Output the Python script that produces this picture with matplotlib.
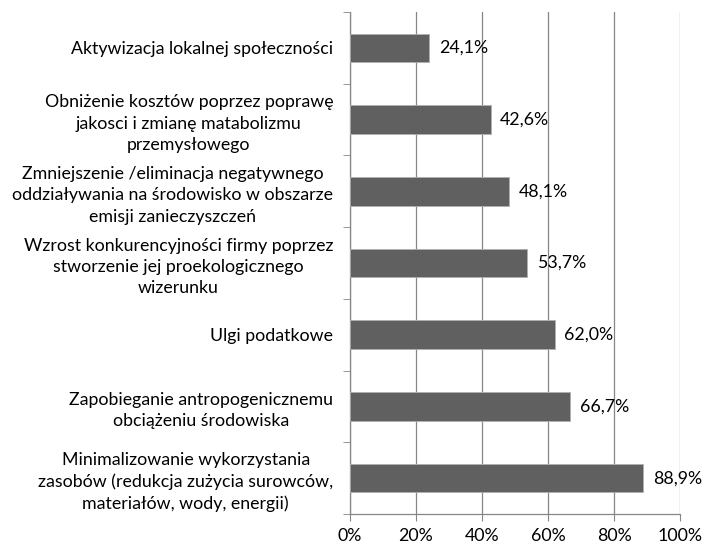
import matplotlib.pyplot as plt

plt.rcParams['font.family'] = ['Lato', 'DejaVu Sans']

categories = [
    "Aktywizacja lokalnej społeczności",
    "Obniżenie kosztów poprzez poprawę\njakosci i zmianę matabolizmu\nprzemysłowego",
    "Zmniejszenie /eliminacja negatywnego\noddziaływania na środowisko w obszarze\nemisji zanieczyszczeń",
    "Wzrost konkurencyjności firmy poprzez\nstworzenie jej proekologicznego\nwizerunku",
    "Ulgi podatkowe",
    "Zapobieganie antropogenicznemu\nobciążeniu środowiska",
    "Minimalizowanie wykorzystania\nzasobów (redukcja zużycia surowców,\nmateriałów, wody, energii)",
]
values = [24.1, 42.6, 48.1, 53.7, 62.0, 66.7, 88.9]
value_labels = ["24,1%", "42,6%", "48,1%", "53,7%", "62,0%", "66,7%", "88,9%"]
xticks = [0, 20, 40, 60, 80, 100]
xtick_labels = ["0%", "20%", "40%", "60%", "80%", "100%"]

FS = 12.8

fig = plt.figure(figsize=(7.04, 5.46), dpi=100)
ax = fig.add_axes([0.497, 0.0586, 0.469, 0.9194])

pos = list(range(len(categories)))
ax.barh(pos, values, height=0.4, color='#606060', edgecolor='#b0b0b0',
        linewidth=0.6, zorder=3)

for p, v, lab in zip(pos, values, value_labels):
    ax.annotate(lab, (v, p), xytext=(7, 0), textcoords='offset points',
                va='center', ha='left', fontsize=FS, color='black', zorder=4)

ax.set_xlim(0, 100)
ax.set_ylim(len(categories) - 0.5, -0.5)
ax.set_xticks(xticks)
ax.set_xticklabels(xtick_labels, fontsize=FS)
ax.set_yticks(pos)
ax.set_yticklabels(categories, fontsize=FS)
for t in ax.get_yticklabels():
    t.set_multialignment('center')
    t.set_linespacing(1.4)
ax.set_yticks([i - 0.5 for i in range(len(categories) + 1)], minor=True)

ax.tick_params(axis='y', which='major', length=0, pad=12)
ax.tick_params(axis='y', which='minor', length=5, color='#868686')
ax.tick_params(axis='x', length=5, color='#868686', pad=5)

ax.grid(axis='x', color='#868686', linewidth=0.9, zorder=0)
ax.set_axisbelow(True)
for s in ['top', 'right']:
    ax.spines[s].set_visible(False)
for s in ['left', 'bottom']:
    ax.spines[s].set_color('#868686')
    ax.spines[s].set_linewidth(0.9)

fig.savefig('out.png', dpi=100)
